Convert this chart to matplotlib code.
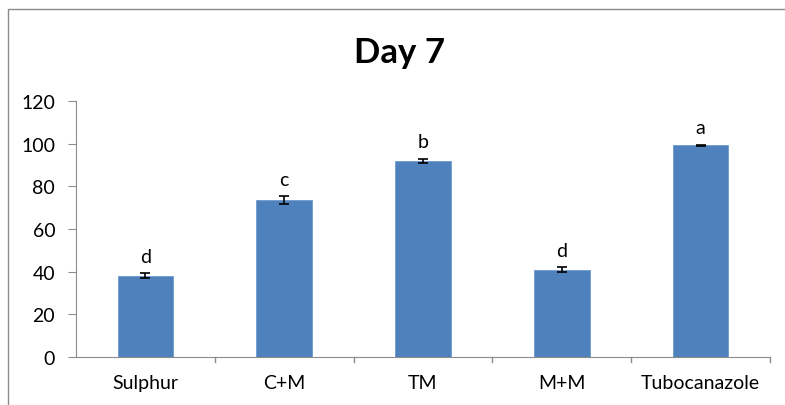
import matplotlib.pyplot as plt
from matplotlib.patches import Rectangle

categories = ['Sulphur', 'C+M', 'TM', 'M+M', 'Tubocanazole']
values = [38, 73.5, 92, 41, 99.3]
errors = [1.2, 1.8, 1.0, 1.0, 0.3]
letters = ['d', 'c', 'b', 'd', 'a']

plt.rcParams['font.family'] = ['Lato', 'DejaVu Sans']

fig = plt.figure(figsize=(7.85, 4.06), dpi=100)
ax = fig.add_axes([76 / 785, 48 / 406, 694 / 785, 256 / 406])

# outer chart frame
fig.patches.append(Rectangle((8 / 785, -0.1), 1.2, 1.1 - 10 / 406,
                             transform=fig.transFigure, fill=False,
                             edgecolor='#8c8c8c', linewidth=1))

x = range(len(categories))
ax.bar(x, values, width=0.4, color='#4F81BD', edgecolor='#6f9bd1', linewidth=0.6)
ax.errorbar(x, values, yerr=errors, fmt='none', ecolor='black',
            elinewidth=1.2, capsize=3.5, capthick=1.2)

for i, (v, e, l) in enumerate(zip(values, errors, letters)):
    ax.text(i, v + e + 4, l, ha='center', va='bottom', fontsize=14)

ax.set_xlim(-0.5, len(categories) - 0.5)
ax.set_ylim(0, 120)
ax.set_yticks(range(0, 121, 20))
ax.set_xticks(list(x))
ax.set_xticklabels(categories, fontsize=14)
ax.tick_params(axis='y', labelsize=14, length=6, color='#8c8c8c',
               direction='out', pad=9)
ax.tick_params(axis='x', length=0, pad=12)
for b in [0.5, 1.5, 2.5, 3.5, 4.5]:
    ax.plot([b, b], [0, -2.5], color='#8c8c8c', linewidth=1, clip_on=False)

for s in ['top', 'right']:
    ax.spines[s].set_visible(False)
ax.spines['left'].set_color('#8c8c8c')
ax.spines['bottom'].set_color('#8c8c8c')

fig.text(400 / 785, 1 - 53 / 406, 'Day 7', ha='center', va='center',
         fontsize=25, fontweight='bold')

fig.savefig('out.png', dpi=100)
